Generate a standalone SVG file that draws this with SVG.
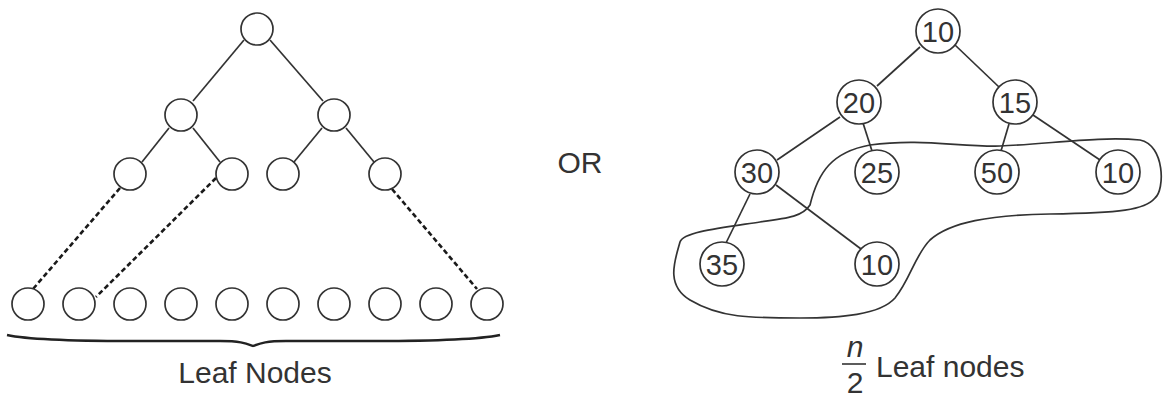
<svg xmlns="http://www.w3.org/2000/svg" width="1172" height="397" viewBox="0 0 1172 397">
<style>
.n{fill:#fff;stroke:#333;stroke-width:1.7}
.e{stroke:#333;stroke-width:1.7;fill:none}
.d{stroke:#1a1a1a;stroke-width:2.6;stroke-dasharray:5 3;fill:none}
.t{font-family:"Liberation Sans",Arial,sans-serif;fill:#333;font-size:30px}
.v{font-family:"Liberation Sans",Arial,sans-serif;fill:#333;font-size:29px;text-anchor:middle}
</style>
<rect width="1172" height="397" fill="#fff"/>
<g id="connectors">
<line class="e" x1="244" y1="40" x2="193" y2="101"/>
<line class="e" x1="270" y1="40" x2="323" y2="101"/>
<line class="e" x1="169" y1="128" x2="142" y2="162"/>
<line class="e" x1="193" y1="128" x2="220" y2="162"/>
<line class="e" x1="322" y1="128" x2="294" y2="162"/>
<line class="e" x1="346" y1="128" x2="374" y2="162"/>
<line class="d" x1="120" y1="188" x2="33" y2="289"/>
<line class="d" x1="216" y1="178" x2="96" y2="297"/>
<line class="d" x1="392" y1="189" x2="477" y2="289"/>
<line class="e" x1="920" y1="47" x2="877" y2="86"/>
<line class="e" x1="955" y1="45" x2="999" y2="87"/>
<line class="e" x1="840" y1="117" x2="777" y2="160"/>
<line class="e" x1="863" y1="123" x2="872" y2="151"/>
<line class="e" x1="1009" y1="124" x2="1001" y2="151"/>
<line class="e" x1="1033" y1="115" x2="1100" y2="160"/>
<line class="e" x1="750" y1="194" x2="726" y2="243"/>
<line class="e" x1="776" y1="185" x2="861" y2="249"/>
</g>
<g id="left-tree">
<circle id="l-root" class="n" cx="257" cy="29" r="16"/>
<circle id="l-a" class="n" cx="181" cy="115" r="16"/>
<circle id="l-b" class="n" cx="334" cy="115" r="16"/>
<circle id="l-c" class="n" cx="130" cy="174" r="16"/>
<circle id="l-d" class="n" cx="232" cy="174" r="16"/>
<circle id="l-e" class="n" cx="283" cy="174" r="16"/>
<circle id="l-f" class="n" cx="385" cy="174" r="16"/>
</g>
<g id="leaves">
<circle class="n" cx="28" cy="304" r="16"/>
<circle class="n" cx="79" cy="304" r="16"/>
<circle class="n" cx="130" cy="304" r="16"/>
<circle class="n" cx="181" cy="304" r="16"/>
<circle class="n" cx="232" cy="304" r="16"/>
<circle class="n" cx="283" cy="304" r="16"/>
<circle class="n" cx="334" cy="304" r="16"/>
<circle class="n" cx="385" cy="304" r="16"/>
<circle class="n" cx="436" cy="304" r="16"/>
<circle class="n" cx="487" cy="304" r="16"/>
</g>
<g id="brace">
<path d="M7 335 C30 340 80 341 130 341 L220 341 C240 341 245 343 253 346 C261 343 266 341 286 341 L376 341 C426 341 476 340 500 335" fill="none" stroke="#222" stroke-width="2.4"/>
<text class="t" x="255" y="383" text-anchor="middle">Leaf Nodes</text>
</g>
<text id="or" class="t" x="580" y="173" text-anchor="middle">OR</text>
<g id="region">
<path class="e" d="M810 205 C818 172 832 152 870 145 C920 138 960 147 1000 146 C1050 144 1100 136 1140 140 C1165 145 1165 190 1155 198 C1145 210 1120 213 1050 214 C990 215 950 222 930 240 C915 255 910 280 895 298 C880 315 840 318 800 318 C750 318 720 318 690 300 C665 285 675 260 680 242 C683 232 720 228 760 222 C790 218 803 216 810 205 Z"/>
</g>
<g id="r-10"><circle class="n" cx="938" cy="31" r="22"/><text class="v" x="938" y="41.5">10</text></g>
<g id="r-20"><circle class="n" cx="859" cy="102" r="22"/><text class="v" x="859" y="112.5">20</text></g>
<g id="r-15"><circle class="n" cx="1015" cy="102" r="22"/><text class="v" x="1015" y="112.5">15</text></g>
<g id="r-30"><circle class="n" cx="757" cy="172" r="22"/><text class="v" x="757" y="182.5">30</text></g>
<g id="r-25"><circle class="n" cx="877" cy="172" r="22"/><text class="v" x="877" y="182.5">25</text></g>
<g id="r-50"><circle class="n" cx="997" cy="172" r="22"/><text class="v" x="997" y="182.5">50</text></g>
<g id="r-10b"><circle class="n" cx="1118" cy="172" r="22"/><text class="v" x="1118" y="182.5">10</text></g>
<g id="r-35"><circle class="n" cx="722" cy="264" r="22"/><text class="v" x="722" y="274.5">35</text></g>
<g id="r-10c"><circle class="n" cx="877" cy="264" r="22"/><text class="v" x="877" y="274.5">10</text></g>
<g id="label-right">
<text class="t" x="855" y="357" text-anchor="middle" font-style="italic" font-size="28">n</text>
<line x1="842" y1="364" x2="866" y2="364" stroke="#333" stroke-width="1.6"/>
<text class="t" x="855" y="393" text-anchor="middle" font-size="28">2</text>
<text class="t" x="876" y="377">Leaf nodes</text>
</g>
</svg>
